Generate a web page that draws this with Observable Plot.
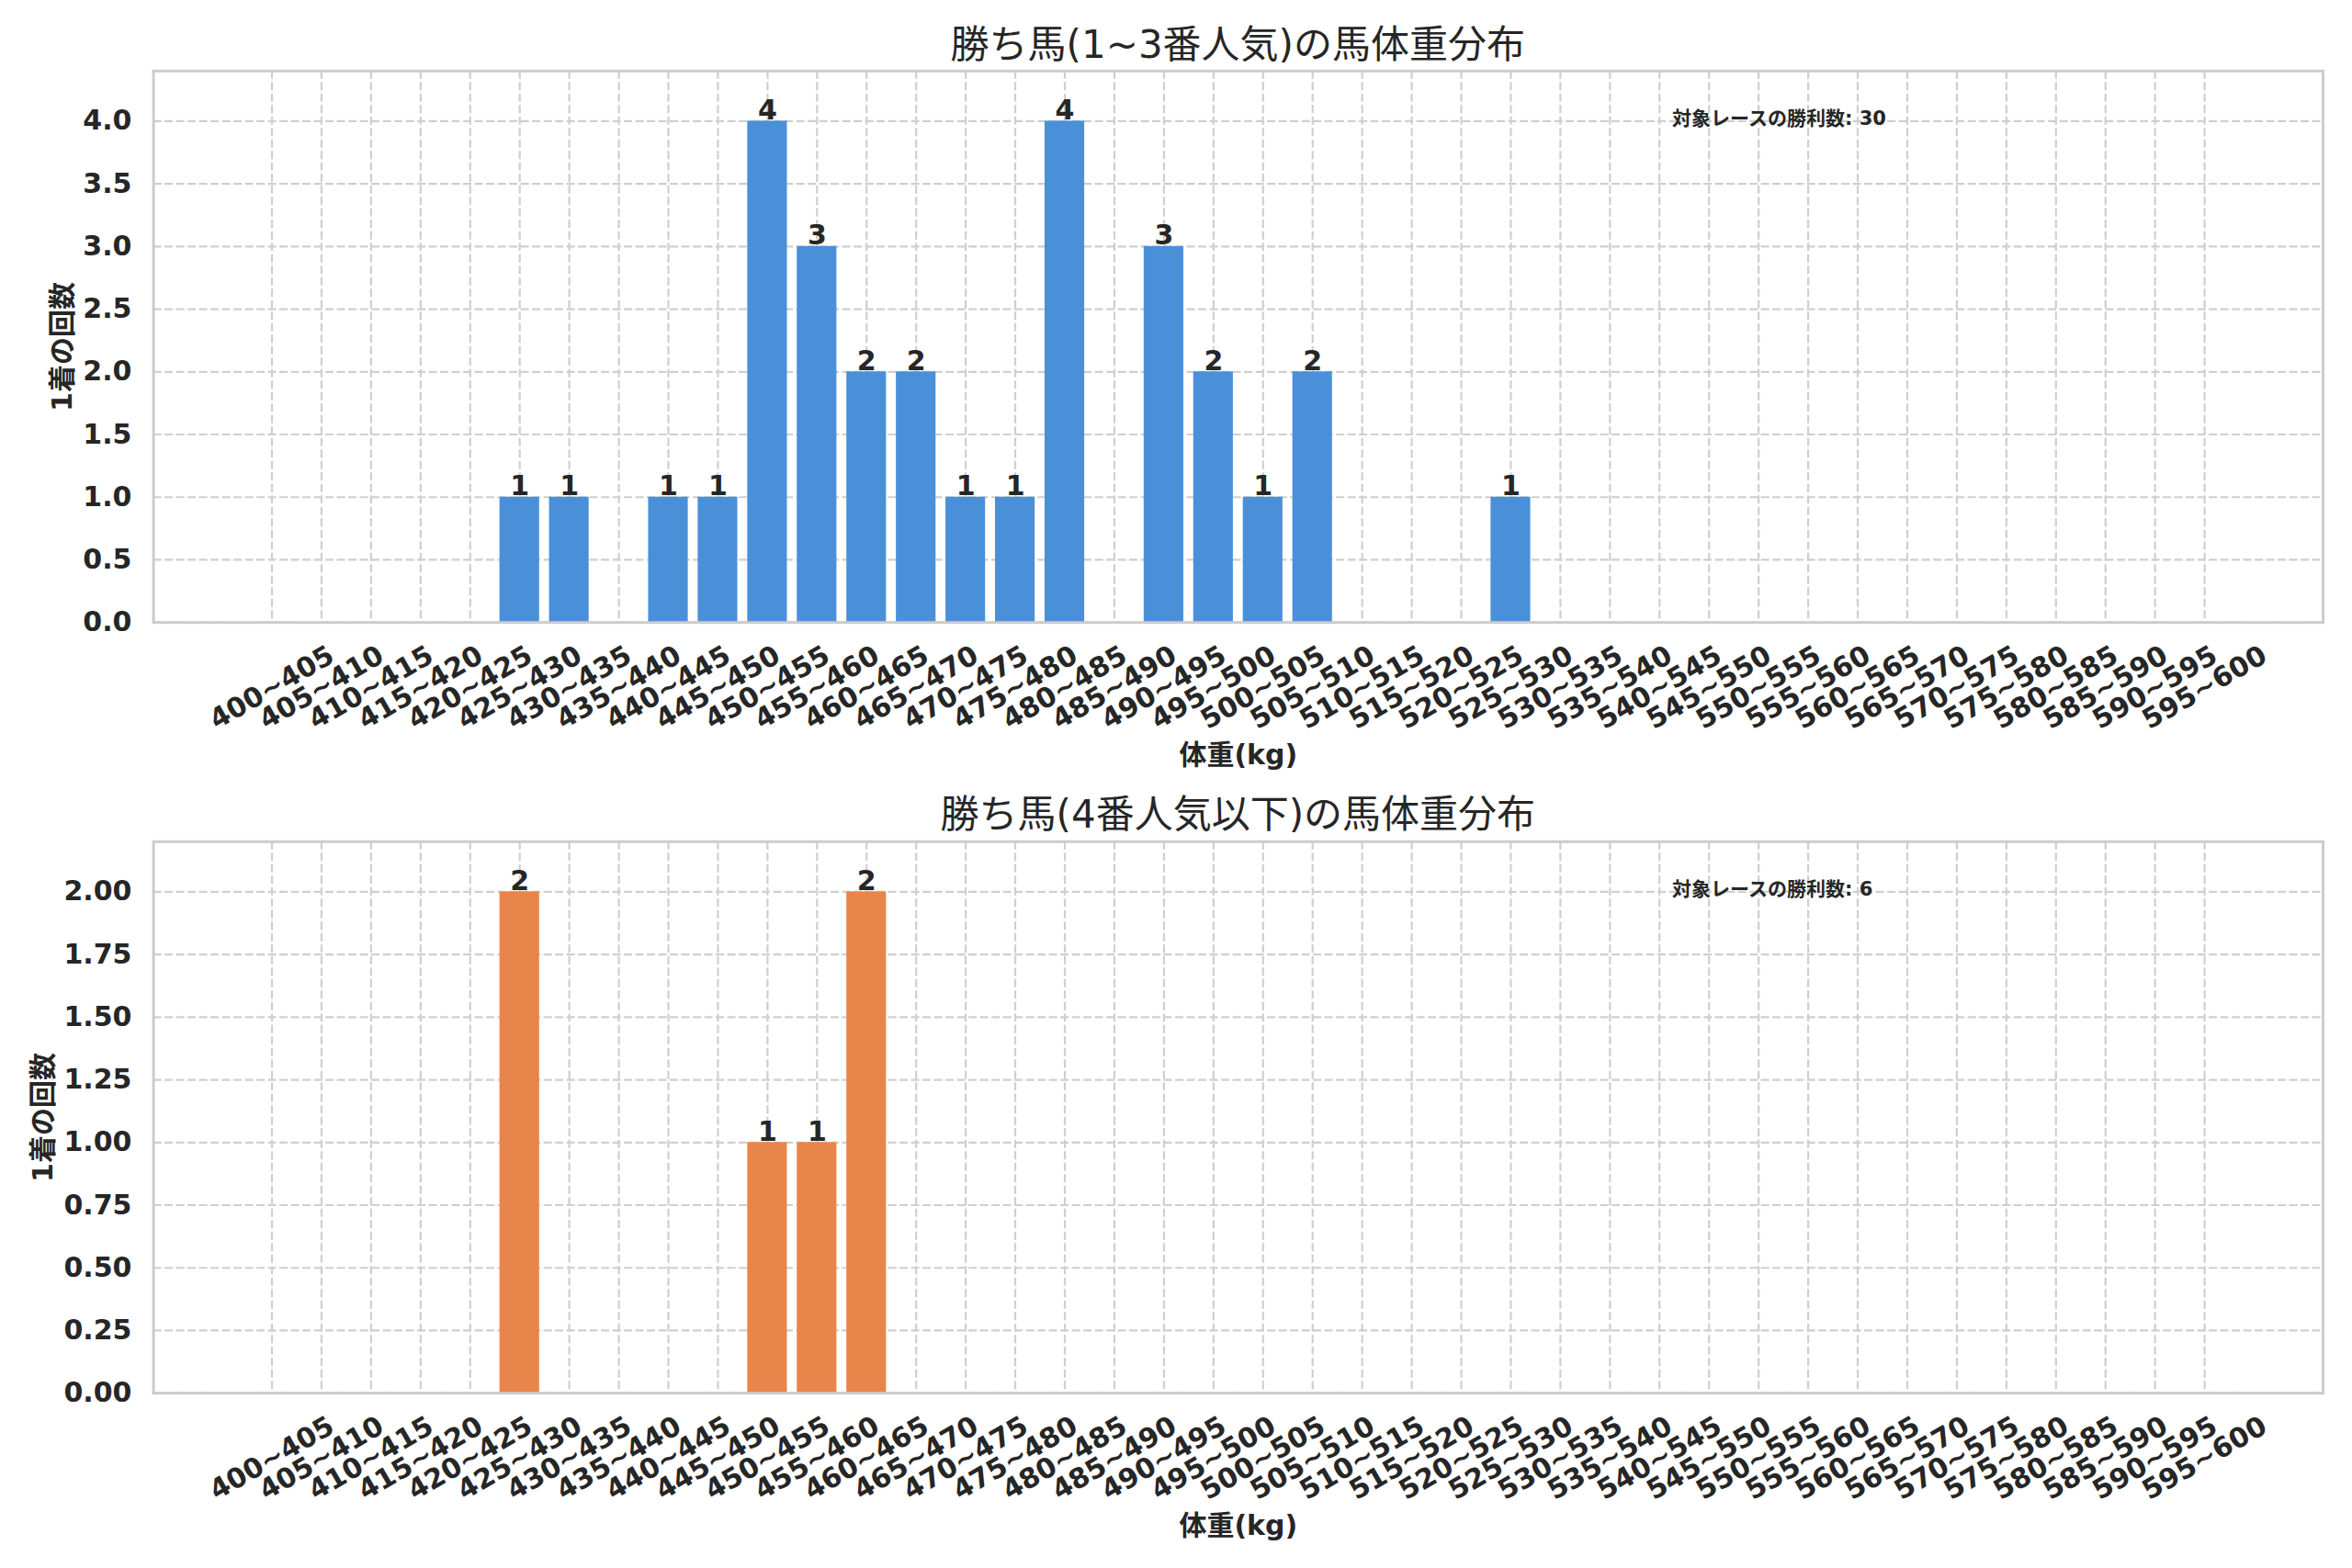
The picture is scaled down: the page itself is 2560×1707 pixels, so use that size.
<!DOCTYPE html>
<html>
<head>
<meta charset="utf-8">
<script src="https://cdn.jsdelivr.net/npm/d3@7"></script>
<script src="https://cdn.jsdelivr.net/npm/@observablehq/plot@0.6"></script>
<style>
  html, body { margin: 0; padding: 0; background: #ffffff; }
  #root { position: relative; width: 2560px; height: 1707px; background: #ffffff; overflow: hidden; }
  .title { position: absolute; left: 166.6px; width: 2361.4px; text-align: center;
           font-family: "DejaVu Sans", "Noto Sans CJK JP", sans-serif; font-size: 42px;
           color: #262626; line-height: 1; transform: translateY(-50%); white-space: nowrap; }
  .panel { position: absolute; left: 0; }
</style>
</head>
<body>
<div id="root"></div>
<script>
// ---- data ----
const categories = [
  "400~405","405~410","410~415","415~420","420~425","425~430","430~435","435~440",
  "440~445","445~450","450~455","455~460","460~465","465~470","470~475","475~480",
  "480~485","485~490","490~495","495~500","500~505","505~510","510~515","515~520",
  "520~525","525~530","530~535","535~540","540~545","545~550","550~555","555~560",
  "560~565","565~570","570~575","575~580","580~585","585~590","590~595","595~600"
];
const countsTop = [
  0,0,0,0,0,1,1,0,
  1,1,4,3,2,2,1,1,
  4,0,3,2,1,2,0,0,
  0,1,0,0,0,0,0,0,
  0,0,0,0,0,0,0,0
];
const countsBottom = [
  0,0,0,0,0,2,0,0,
  0,0,1,1,2,0,0,0,
  0,0,0,0,0,0,0,0,
  0,0,0,0,0,0,0,0,
  0,0,0,0,0,0,0,0
];
const yTicksTop = [0, 0.5, 1.0, 1.5, 2.0, 2.5, 3.0, 3.5, 4.0];
const yTicksBottom = [0, 0.25, 0.5, 0.75, 1.0, 1.25, 1.5, 1.75, 2.0];
const titleTop = "勝ち馬(1~3番人気)の馬体重分布";
const titleBottom = "勝ち馬(4番人気以下)の馬体重分布";
const xLabel = "体重(kg)";
const yLabel = "1着の回数";
const noteLabel = "対象レースの勝利数";
const colorTop = "#4a90d9";
const colorBottom = "#e8854a";

// ---- layout ----
const FONT = "'DejaVu Sans','Noto Sans CJK JP',sans-serif";
const INK = "#262626";
const W = 2560, H = 780;
const mL = 166.6, mR = 32, mT = 6.8, frameH = 600.4;
const mB = H - mT - frameH;

function panel(counts, color, yMax, yTicks, yFmt, yLabelDx) {
  const data = categories.map((c, i) => ({i, c, n: counts[i]}));
  const bars = data.filter(d => d.n > 0);
  const total = d3.sum(counts);
  const grid = {stroke: "#cfcfcf", strokeWidth: 2.2, strokeDasharray: "9,3.5"};
  return Plot.plot({
    width: W, height: H,
    marginLeft: mL, marginRight: mR, marginTop: mT, marginBottom: mB,
    style: {fontFamily: FONT, background: "#ffffff", overflow: "visible", color: INK},
    x: {type: "linear", domain: [-2.39, 41.39], axis: null},
    y: {type: "linear", domain: [0, yMax], axis: null},
    marks: [
      Plot.ruleX(data, {x: "i", ...grid}),
      Plot.ruleY(yTicks, {y: d => d, ...grid}),
      Plot.rectY(bars, {x1: d => d.i - 0.4, x2: d => d.i + 0.4, y1: 0, y2: "n", fill: color}),
      Plot.frame({stroke: "#cccccc", strokeWidth: 3}),
      Plot.text(bars, {x: "i", y: "n", text: d => String(d.n), lineAnchor: "bottom", dy: -2,
        fontSize: 30, fontWeight: "bold", fill: INK}),
      Plot.text(yTicks, {y: d => d, text: d => yFmt(d), frameAnchor: "left", textAnchor: "end",
        lineAnchor: "middle", dx: -23.6, fontSize: 30, fontWeight: "bold", fill: INK}),
      Plot.text(data, {x: "i", text: "c", frameAnchor: "bottom", dy: 71, rotate: -30,
        textAnchor: "middle", lineAnchor: "middle", fontSize: 30, fontWeight: "bold", fill: INK}),
      Plot.text([xLabel], {text: d => d, frameAnchor: "bottom", dy: 144.5, lineAnchor: "middle",
        fontSize: 30, fontWeight: "bold", fill: INK}),
      Plot.text([yLabel], {text: d => d, frameAnchor: "left", dx: yLabelDx, rotate: -90,
        textAnchor: "middle", lineAnchor: "middle", fontSize: 30, fontWeight: "bold", fill: INK}),
      Plot.text([`${noteLabel}: ${total}`], {text: d => d, frameAnchor: "top-left",
        dx: 0.7 * (W - mL - mR), dy: 52, textAnchor: "start", lineAnchor: "middle",
        fontSize: 21, fontWeight: "bold", fill: INK})
    ]
  });
}

const root = document.getElementById("root");
function addTitle(text, y) {
  const t = document.createElement("div");
  t.className = "title";
  t.style.top = y + "px";
  t.textContent = text;
  root.appendChild(t);
}
function addPanel(svg, top) {
  const d = document.createElement("div");
  d.className = "panel";
  d.style.top = top + "px";
  d.appendChild(svg);
  root.appendChild(d);
}

addTitle(titleTop, 49);
addPanel(panel(countsTop, colorTop, 4.4, yTicksTop, d3.format(".1f"), -98.6), 76.8 - mT);
addTitle(titleBottom, 887);
addPanel(panel(countsBottom, colorBottom, 2.2, yTicksBottom, d3.format(".2f"), -120), 916 - mT);
</script>
</body>
</html>
